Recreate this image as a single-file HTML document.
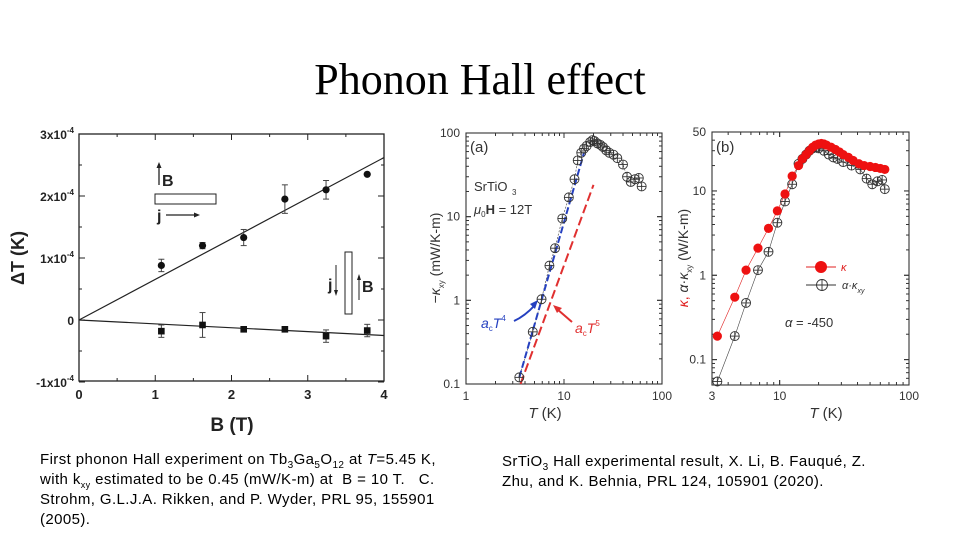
<!DOCTYPE html>
<html><head><meta charset="utf-8"><style>
html,body{margin:0;padding:0;background:#fff;}
body{width:960px;height:540px;position:relative;overflow:hidden;font-family:"Liberation Sans",sans-serif;}
.title{position:absolute;left:0;width:960px;top:54px;text-align:center;font-family:"Liberation Serif",serif;font-size:44px;color:#000;}
.cap{position:absolute;font-size:15px;letter-spacing:0.4px;line-height:20px;color:#000;white-space:nowrap;}
.cap sub{line-height:0;}
svg{position:absolute;left:0;top:0;}
</style></head><body>
<div class="title">Phonon Hall effect</div>
<div class="cap" style="left:40px;top:450px;">First phonon Hall experiment on Tb<sub style="font-size:10px">3</sub>Ga<sub style="font-size:10px">5</sub>O<sub style="font-size:10px">12</sub> at <i>T</i>=5.45 K,<br>with k<sub style="font-size:9px">xy</sub> estimated to be 0.45 (mW/K-m) at&nbsp; B = 10 T.&nbsp;&nbsp; C.<br>Strohm, G.L.J.A. Rikken, and P. Wyder, PRL 95, 155901<br>(2005).</div>
<div class="cap" style="left:502px;top:452px;">SrTiO<sub style="font-size:10px">3</sub> Hall experimental result, X. Li, B. Fauqué, Z.<br>Zhu, and K. Behnia, PRL 124, 105901 (2020).</div>
<svg id="s" width="960" height="540" xmlns="http://www.w3.org/2000/svg"></svg>
<script>
// Chart 1 data
const bField=[1.08,1.62,2.16,2.7,3.24,3.78];
const upperDT=[8.8e-5,1.2e-4,1.33e-4,1.95e-4,2.1e-4,2.35e-4];
const upperErr=[1e-5,0.5e-5,1.3e-5,2.3e-5,1.5e-5,0];
const lowerDT=[-1.8e-5,-0.8e-5,-1.5e-5,-1.5e-5,-2.6e-5,-1.7e-5];
const lowerErr=[1e-5,2e-5,0.3e-5,0.3e-5,1e-5,1e-5];
const fitUpper=[0,2.62e-4];
const fitLower=[0,-2.5e-5];
const c1XTicks=[0,1,2,3,4];
const c1YTicks=[-1,0,1,2,3];
// Chart 2 data
const aT=[3.5,4.8,5.9,7.1,8.1,9.6,11.2,12.8,13.8,15,16,17,18.5,19.5,20.5,22,23.5,25,27,29,32,35,40,44,48,53,58,62];
const aK=[0.12,0.42,1.03,2.6,4.2,9.5,17,28,47,58,65,70,78,82,80,75,72,68,62,58,55,50,42,30,26,28,29,23];
const blueFitT=[3.5,16];
const blueFitK=[0.12,58];
const redFitT=[3.6,20];
const redFitK=[0.1,24];
const c2XTicks=[1,10,100];
const c2YTicks=[0.1,1,10,100];
// Chart 3 data
const bT=[3.3,4.5,5.5,6.8,8.2,9.6,11,12.5,14,15,16,17,18,19,20,21,22,23,25,27,29,31,34,37,41,45,50,55,60,65];
const kappa=[0.19,0.55,1.15,2.1,3.6,5.8,9.2,15,20,24,27,30,33,35,36,36.5,36,35,33,31,29,27,25,23,21,20,19.5,19,18.5,18];
const hT=[3.3,4.5,5.5,6.8,8.2,9.6,11,12.5,14,15,16,17,18,19,20,22,24,26,28,31,36,42,47,52,57,62,65];
const hK=[0.055,0.19,0.47,1.15,1.9,4.2,7.5,12,21,24,27,30,32,33,32,30,27,25,24,22,20,18,14,12,13,13.5,10.5];
const c3XTicks=[3,10,100];
const c3YTicks=[0.1,1,10,50];

const NS='http://www.w3.org/2000/svg';
const svg=document.getElementById('s');
function el(tag,a,parent){const e=document.createElementNS(NS,tag);for(const k in a)e.setAttribute(k,a[k]);(parent||svg).appendChild(e);return e;}
function txt(s,a,parent){const e=el('text',a,parent);e.textContent=s;return e;}

// ---------- Chart 1 ----------
const g1=el('g',{});


const X1=b=>79+b*(384-79)/4;
const Y1=v=>320-v/1e-4*62;
const f1=el('rect',{x:79,y:134,width:305,height:247,fill:'none',stroke:'#222','stroke-width':1.3},g1);


for(let b=0;b<=4;b+=0.5){const l=(b%1===0)?6:3;el('line',{x1:X1(b),x2:X1(b),y1:381,y2:381-l,stroke:'#222'},g1);el('line',{x1:X1(b),x2:X1(b),y1:134,y2:134+l,stroke:'#222'},g1);}
for(let v=-1;v<=3;v+=0.5){const l=(v%1===0)?6:3;el('line',{x1:79,x2:79+l,y1:Y1(v*1e-4),y2:Y1(v*1e-4),stroke:'#222'},g1);el('line',{x1:384,x2:384-l,y1:Y1(v*1e-4),y2:Y1(v*1e-4),stroke:'#222'},g1);}
c1XTicks.forEach(b=>{const t=txt(String(b),{x:X1(b),y:399,'font-size':13,'font-weight':'bold','text-anchor':'middle',fill:'#222'},g1);});
c1YTicks.forEach(v=>{const t=el('text',{x:74,y:Y1(v*1e-4)+5,'font-size':12,'font-weight':'bold','text-anchor':'end',fill:'#222'},g1);
 if(v===0){t.textContent='0';}else{t.textContent=(v<0?'-1':String(v))+'x10';const s=el('tspan',{dy:-6,'font-size':8},t);s.textContent='-4';}
 });
const yt1=txt('\u0394T  (K)',{x:24,y:258,'font-size':18,'font-weight':'bold','text-anchor':'middle',transform:'rotate(-90 24 258)',fill:'#222'},g1);

const xt1=txt('B  (T)',{x:232,y:431,'font-size':19,'font-weight':'bold','text-anchor':'middle',fill:'#222'},g1);

const fu=el('line',{x1:X1(0),y1:Y1(fitUpper[0]),x2:X1(4),y2:Y1(fitUpper[1]),stroke:'#222','stroke-width':1.2},g1);

const fl=el('line',{x1:X1(0),y1:Y1(fitLower[0]),x2:X1(4),y2:Y1(fitLower[1]),stroke:'#222','stroke-width':1.2},g1);

bField.forEach((b,i)=>{
 const x=X1(b);
 if(upperErr[i]>0){el('line',{x1:x,x2:x,y1:Y1(upperDT[i]+upperErr[i]),y2:Y1(upperDT[i]-upperErr[i]),stroke:'#444'},g1);
  [1,-1].forEach(s=>el('line',{x1:x-3,x2:x+3,y1:Y1(upperDT[i]+s*upperErr[i]),y2:Y1(upperDT[i]+s*upperErr[i]),stroke:'#444'},g1));}
 const c=el('circle',{cx:x,cy:Y1(upperDT[i]),r:3.6,fill:'#111'},g1);
 
 if(lowerErr[i]>0){el('line',{x1:x,x2:x,y1:Y1(lowerDT[i]+lowerErr[i]),y2:Y1(lowerDT[i]-lowerErr[i]),stroke:'#444'},g1);
  [1,-1].forEach(s=>el('line',{x1:x-3,x2:x+3,y1:Y1(lowerDT[i]+s*lowerErr[i]),y2:Y1(lowerDT[i]+s*lowerErr[i]),stroke:'#444'},g1));}
 const r=el('rect',{x:x-3.3,y:Y1(lowerDT[i])-3.3,width:6.6,height:6.6,fill:'#111'},g1);
 
});
// insets
const in1=el('g',{},g1);
el('line',{x1:159,y1:185,x2:159,y2:166,stroke:'#222','stroke-width':1.3},in1);el('path',{d:'M156.5,168 L159,162 L161.5,168Z',fill:'#222'},in1);
txt('B',{x:162,y:186,'font-size':16,'font-weight':'bold',fill:'#222'},in1);
el('rect',{x:155,y:194,width:61,height:10,fill:'#fff',stroke:'#222'},in1);
txt('j',{x:157,y:221,'font-size':16,'font-weight':'bold',fill:'#222'},in1);
el('line',{x1:166,y1:215,x2:196,y2:215,stroke:'#222','stroke-width':1.3},in1);el('path',{d:'M194,212.5 L200,215 L194,217.5Z',fill:'#222'},in1);
const in2=el('g',{},g1);
el('rect',{x:345,y:252,width:7,height:62,fill:'#fff',stroke:'#222'},in2);
txt('j',{x:328,y:290,'font-size':16,'font-weight':'bold',fill:'#222'},in2);
el('line',{x1:336,y1:265,x2:336,y2:292,stroke:'#222'},in2);el('path',{d:'M334,290 L336,296 L338,290Z',fill:'#222'},in2);
el('line',{x1:359,y1:300,x2:359,y2:278,stroke:'#222'},in2);el('path',{d:'M357,280 L359,274 L361,280Z',fill:'#222'},in2);
txt('B',{x:362,y:292,'font-size':16,'font-weight':'bold',fill:'#222'},in2);

// ---------- log chart helper ----------
function logAxis(L,R,xmin,xmax,T,B,ymin,ymax){
 return {X:v=>L+(Math.log10(v)-Math.log10(xmin))/(Math.log10(xmax)-Math.log10(xmin))*(R-L),
         Y:v=>B-(Math.log10(v)-Math.log10(ymin))/(Math.log10(ymax)-Math.log10(ymin))*(B-T)};
}
function crossCircle(g,x,y,r,name){const c=el('g',{},g);
 el('circle',{cx:x,cy:y,r:r,fill:'none',stroke:'#333','stroke-width':0.9},c);
 el('line',{x1:x-r,x2:x+r,y1:y,y2:y,stroke:'#333','stroke-width':0.9},c);
 el('line',{x1:x,x2:x,y1:y-r,y2:y+r,stroke:'#333','stroke-width':0.9},c);}
function logFrame(g,L,R,T,B,ax,xmin,xmax,ymin,ymax){
 el('rect',{x:L,y:T,width:R-L,height:B-T,fill:'none',stroke:'#333','stroke-width':1.1},g);
 for(let d=Math.floor(Math.log10(xmin));d<Math.log10(xmax);d++)for(let m=1;m<=10;m++){const v=m*Math.pow(10,d);if(v<xmin||v>xmax)continue;const l=(m===1||m===10)?5:3;const x=ax.X(v);
  el('line',{x1:x,x2:x,y1:B,y2:B-l,stroke:'#333'},g);el('line',{x1:x,x2:x,y1:T,y2:T+l,stroke:'#333'},g);}
 for(let d=Math.floor(Math.log10(ymin));d<Math.log10(ymax);d++)for(let m=1;m<=10;m++){const v=m*Math.pow(10,d);if(v<ymin*0.999||v>ymax*1.001)continue;const l=(m===1||m===10)?5:3;const y=ax.Y(v);
  el('line',{x1:L,x2:L+l,y1:y,y2:y,stroke:'#333'},g);el('line',{x1:R,x2:R-l,y1:y,y2:y,stroke:'#333'},g);}
}

// ---------- Chart 2 ----------
const g2=el('g',{});
const A2=logAxis(466,662,1,100,133,384,0.1,100);
logFrame(g2,466,662,133,384,A2,1,100,0.1,100);
c2XTicks.forEach(v=>{const t=txt(String(v),{x:A2.X(v),y:400,'font-size':12,'text-anchor':'middle',fill:'#333'},g2);});
c2YTicks.forEach(v=>{const t=txt(String(v),{x:460,y:A2.Y(v)+4,'font-size':12,'text-anchor':'end',fill:'#333'},g2);});
const xt2=el('text',{x:545,y:418,'font-size':15,'text-anchor':'middle',fill:'#333'},g2);xt2.innerHTML='<tspan font-style="italic">T</tspan> (K)';

const yt2=el('text',{x:440,y:258,'font-size':14,'text-anchor':'middle',transform:'rotate(-90 440 258)',fill:'#333'},g2);
yt2.innerHTML='\u2212<tspan font-style="italic">\u03ba</tspan><tspan font-size="8" dy="4">xy</tspan><tspan dy="-4"> (mW/K-m)</tspan>';

let p2='';aT.forEach((t,i)=>{p2+=(i?'L':'M')+A2.X(t)+','+A2.Y(aK[i]);});
el('path',{d:p2,fill:'none',stroke:'#555','stroke-width':0.7,'stroke-dasharray':'2,1.5'},g2);
const bl=el('line',{x1:A2.X(blueFitT[0]),y1:A2.Y(blueFitK[0]),x2:A2.X(blueFitT[1]),y2:A2.Y(blueFitK[1]),stroke:'#2540c0','stroke-width':2,'stroke-dasharray':'7,3'},g2);

const rl=el('line',{x1:A2.X(redFitT[0]),y1:A2.Y(redFitK[0]),x2:A2.X(redFitT[1]),y2:A2.Y(redFitK[1]),stroke:'#e03030','stroke-width':2,'stroke-dasharray':'9,4'},g2);

aT.forEach((t,i)=>crossCircle(g2,A2.X(t),A2.Y(aK[i]),4.5,'kxy-point'));
txt('(a)',{x:470,y:152,'font-size':15,fill:'#333'},g2);
txt('SrTiO',{x:474,y:191,'font-size':13,fill:'#333'},g2);txt('3',{x:512,y:195,'font-size':8,fill:'#333'},g2);
const mu=el('text',{x:474,y:214,'font-size':13,fill:'#333'},g2);mu.innerHTML='<tspan font-style="italic">\u03bc</tspan><tspan font-size="8" dy="3">0</tspan><tspan dy="-3" font-weight="bold">H</tspan> = 12T';
const ab=el('text',{x:481,y:328,'font-size':14,fill:'#2540c0'},g2);ab.innerHTML='<tspan font-style="italic">a</tspan><tspan font-size="8" dy="3">c</tspan><tspan dy="-3" font-style="italic">T</tspan><tspan font-size="8" dy="-7">4</tspan>';

el('path',{d:'M514,321 Q525,316 535,305',fill:'none',stroke:'#2540c0','stroke-width':2},g2);el('path',{d:'M530,304 L538,300 L535,309Z',fill:'#2540c0'},g2);
const ar=el('text',{x:575,y:333,'font-size':14,fill:'#e03030'},g2);ar.innerHTML='<tspan font-style="italic">a</tspan><tspan font-size="8" dy="3">c</tspan><tspan dy="-3" font-style="italic">T</tspan><tspan font-size="8" dy="-7">5</tspan>';

el('line',{x1:572,y1:322,x2:557,y2:309,stroke:'#e03030','stroke-width':2},g2);el('path',{d:'M553,305 L562,308 L557,313Z',fill:'#e03030'},g2);

// ---------- Chart 3 ----------
const g3=el('g',{});
const A3=logAxis(712,909,3,100,132,385,0.05,50);
logFrame(g3,712,909,132,385,A3,3,100,0.05,50);
c3XTicks.forEach(v=>{const t=txt(String(v),{x:A3.X(v),y:400,'font-size':12,'text-anchor':'middle',fill:'#333'},g3);});
c3YTicks.forEach(v=>{const t=txt(String(v),{x:706,y:A3.Y(v)+4,'font-size':12,'text-anchor':'end',fill:'#333'},g3);});
const xt3=el('text',{x:826,y:418,'font-size':15,'text-anchor':'middle',fill:'#333'},g3);xt3.innerHTML='<tspan font-style="italic">T</tspan> (K)';

const yt3=el('text',{x:688,y:258,'font-size':14,'text-anchor':'middle',transform:'rotate(-90 688 258)',fill:'#333'},g3);
yt3.innerHTML='<tspan fill="#e02020" font-style="italic">\u03ba</tspan><tspan fill="#e02020">,</tspan> <tspan font-style="italic">\u03b1</tspan>\u00b7<tspan font-style="italic">\u03ba</tspan><tspan font-size="8" dy="4">xy</tspan><tspan dy="-4">  (W/K-m)</tspan>';

let p3='';bT.forEach((t,i)=>{p3+=(i?'L':'M')+A3.X(t)+','+A3.Y(kappa[i]);});
el('path',{d:p3,fill:'none',stroke:'#e02020','stroke-width':0.6},g3);
let p4='';hT.forEach((t,i)=>{p4+=(i?'L':'M')+A3.X(t)+','+A3.Y(hK[i]);});
el('path',{d:p4,fill:'none',stroke:'#444','stroke-width':0.6},g3);
hT.forEach((t,i)=>crossCircle(g3,A3.X(t),A3.Y(hK[i]),4.5,'alpha-kxy-point'));
bT.forEach((t,i)=>{const c=el('circle',{cx:A3.X(t),cy:A3.Y(kappa[i]),r:4.6,fill:'#ee1111'},g3);});
txt('(b)',{x:716,y:152,'font-size':15,fill:'#333'},g3);
const lg=el('g',{},g3);
el('line',{x1:806,x2:836,y1:267,y2:267,stroke:'#e02020'},lg);el('circle',{cx:821,cy:267,r:6,fill:'#ee1111'},lg);
txt('\u03ba',{x:841,y:271,'font-size':11,'font-style':'italic',fill:'#e02020'},lg);
el('line',{x1:806,x2:836,y1:285,y2:285,stroke:'#333'},lg);crossCircle(lg,822,285,5.5,'legend-marker');
const lt=el('text',{x:842,y:289,'font-size':11,'font-style':'italic',fill:'#333'},lg);lt.innerHTML='\u03b1\u00b7\u03ba<tspan font-size="7" dy="4">xy</tspan>';
const al=el('text',{x:785,y:327,'font-size':13,fill:'#333'},g3);al.innerHTML='<tspan font-style="italic">\u03b1</tspan> = -450';

</script>
</body></html>
